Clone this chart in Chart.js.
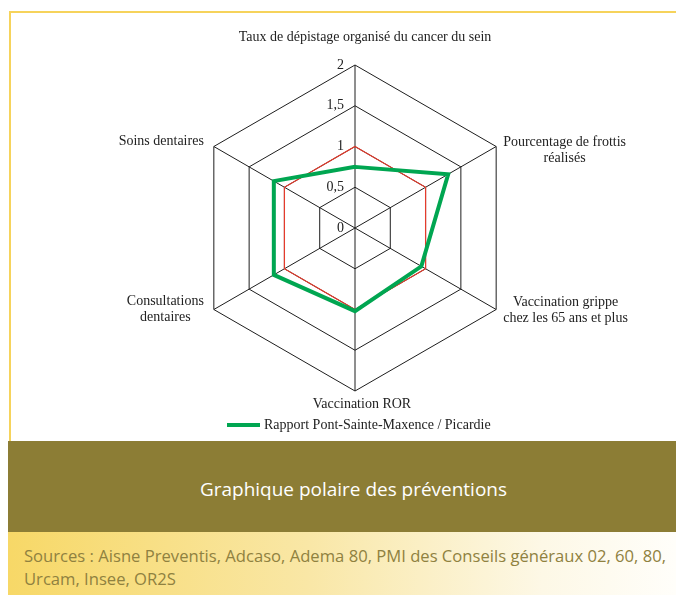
<!DOCTYPE html>
<html lang="fr">
<head>
<meta charset="utf-8">
<title>Graphique polaire des préventions</title>
<script src="https://cdn.jsdelivr.net/npm/chart.js@4.4.1/dist/chart.umd.min.js"></script>
<style>
  html, body { margin: 0; padding: 0; background: #fff; }
  body { width: 676px; height: 595px; position: relative; overflow: hidden; }
  #frame {
    position: absolute; left: 9px; top: 11px; width: 667px; height: 430px;
    border-left: 2px solid #f6d35b; border-top: 2px solid #f6d35b; box-sizing: border-box;
  }
  #chart-box { position: absolute; left: 0; top: 0; width: 676px; height: 441px; }
  #title-band {
    position: absolute; left: 8px; top: 441px; width: 668px; height: 91px; background: #8c7d35;
  }
  #source-band {
    position: absolute; left: 8px; top: 532px; width: 668px; height: 63px;
    background: linear-gradient(to right, #f7d867 0%, #f9e7a6 45%, #fdf8e6 80%, #fffefa 100%);
  }
  .fit { position: absolute; white-space: nowrap; transform-origin: 0 0; font-family: "Open Sans", sans-serif; }
  #title-text { color: #fff; font-size: 19px; line-height: 26px; top: 35px; left: 192px; }
  #source-text { color: #8f8140; font-size: 17px; line-height: 23px; top: 12px; left: 16px; }
</style>
</head>
<body>
<div id="frame"></div>
<div id="chart-box"><canvas id="chart-radar" width="676" height="441"></canvas></div>
<div id="title-band"><span id="title-text" class="fit">Graphique polaire des préventions</span></div>
<div id="source-band"><span id="source-text" class="fit">Sources : Aisne Preventis, Adcaso, Adema 80, PMI des Conseils généraux 02, 60, 80,<br>Urcam, Insee, OR2S</span></div>

<script>
// axes, clockwise from the top
const axisLabels = [
  ["Taux de dépistage organisé du cancer du sein"],
  ["Pourcentage de frottis", "réalisés"],
  ["Vaccination grippe", "chez les 65 ans et plus"],
  ["Vaccination ROR"],
  ["Consultations", "dentaires"],
  ["Soins dentaires"],
];
// Pont-Sainte-Maxence / Picardie ratio
const ratioValues = [0.75, 1.32, 0.94, 1.02, 1.15, 1.15];
// Picardie reference (ratio = 1)
const refValues = [1, 1, 1, 1, 1, 1];
const tickValues = [0, 0.5, 1, 1.5, 2];
const tickLabels = ["0", "0,5", "1", "1,5", "2"];

const seriesName = "Rapport Pont-Sainte-Maxence / Picardie";
const GREEN = "#00a651";
const RED = "#e53b2c";
const INK = "#222222";
const SERIF = '14px "Liberation Serif", "Times New Roman", serif';

// stretch a text span horizontally to the width it has in the print layout
function fitWidth(el, target) {
  const w = el.getBoundingClientRect().width;
  if (w > 0) el.style.transform = `scaleX(${target / w})`;
}
fitWidth(document.getElementById("title-text"), 307);
fitWidth(document.getElementById("source-text"), 642);

/** Axis names, tick texts and the legend, placed from the radial scale. */
const hexLabels = {
  id: "hexLabels",
  afterDraw(chart, args, opts) {
    const r = chart.scales.r;
    const ctx = chart.ctx;
    ctx.save();
    ctx.font = SERIF;
    ctx.fillStyle = INK;

    // ticks, left of the vertical axis
    ctx.textAlign = "right";
    ctx.textBaseline = "middle";
    tickValues.forEach((v, i) => {
      const p = r.getPointPositionForValue(0, v);
      ctx.fillText(tickLabels[i], p.x - 11, p.y);
    });

    // axis names
    const lh = 16;
    axisLabels.forEach((lines, i) => {
      const p = r.getPointPosition(i, r.drawingArea);
      const dx = p.x - r.xCenter;
      const [sx, sy] = opts.shift[i];
      ctx.textAlign = "center";
      if (Math.abs(dx) < 1) {
        const y0 = p.y < r.yCenter ? p.y - 28 : p.y + 13;
        lines.forEach((t, k) => ctx.fillText(t, p.x + sx, y0 + sy + k * lh));
        return;
      }
      const bw = Math.max(...lines.map((t) => ctx.measureText(t).width));
      const cx = (dx > 0 ? p.x + 7 + bw / 2 : p.x - 10 - bw / 2) + sx;
      const cy = p.y + sy;
      const y0 = cy - ((lines.length - 1) * lh) / 2;
      lines.forEach((t, k) => ctx.fillText(t, cx, y0 + k * lh));
    });

    // legend (only the ratio series is listed)
    const ds = chart.data.datasets[0];
    const lx = 227;
    const ly = 425;
    ctx.strokeStyle = ds.borderColor;
    ctx.lineWidth = 4;
    ctx.beginPath();
    ctx.moveTo(lx, ly);
    ctx.lineTo(lx + 33, ly);
    ctx.stroke();
    ctx.textAlign = "left";
    ctx.fillText(ds.label, lx + 37, ly);
    ctx.restore();
  },
};

new Chart(document.getElementById("chart-radar"), {
  type: "radar",
  data: {
    labels: axisLabels,
    datasets: [
      {
        label: seriesName,
        data: ratioValues,
        borderColor: GREEN,
        backgroundColor: GREEN,
        borderWidth: 4,
        fill: false,
        pointRadius: 0,
        pointHoverRadius: 0,
      },
      {
        label: "Picardie",
        data: refValues,
        borderColor: RED,
        backgroundColor: RED,
        borderWidth: 1.2,
        fill: false,
        pointRadius: 0,
        pointHoverRadius: 0,
      },
    ],
  },
  options: {
    responsive: false,
    animation: false,
    devicePixelRatio: 1,
    layout: { padding: { left: 192, right: 158, top: 65, bottom: 50 } },
    elements: { line: { tension: 0, borderJoinStyle: "miter" } },
    plugins: {
      legend: { display: false },
      tooltip: { enabled: false },
      hexLabels: { shift: [[10, 0], [0, 4], [0, 1], [7, 0], [0, 0], [0, -5]] },
    },
    scales: {
      r: {
        min: 0,
        max: 2,
        ticks: { stepSize: 0.5, display: false },
        pointLabels: { display: false },
        grid: { color: "#1e1e1e", lineWidth: 1 },
        angleLines: { color: "#1e1e1e", lineWidth: 1 },
      },
    },
  },
  plugins: [hexLabels],
});
</script>
</body>
</html>
